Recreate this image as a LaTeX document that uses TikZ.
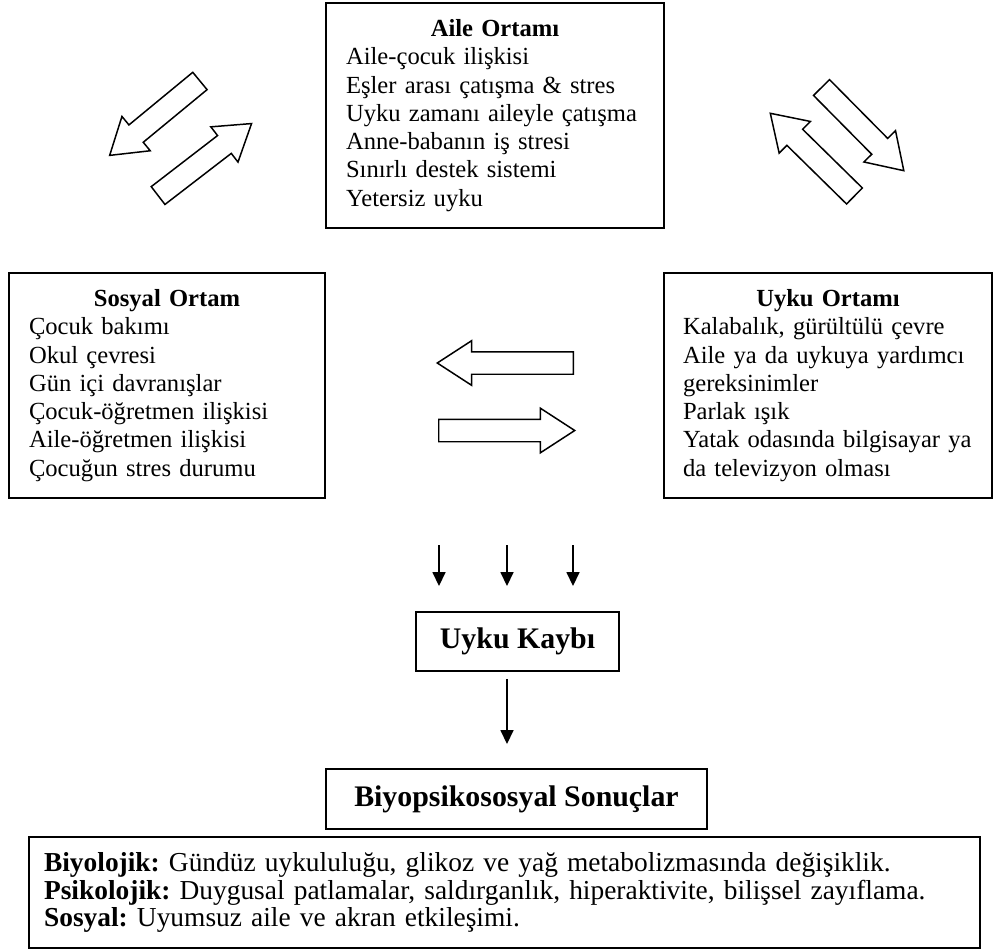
\documentclass[tikz,border=0pt]{standalone}
\usepackage{fontspec}
\setmainfont{Liberation Serif}
\usetikzlibrary{positioning, arrows.meta, shapes.arrows}
\frenchspacing

\begin{document}
\begin{tikzpicture}[x=0.02cm, y=-0.02cm,
  box/.style={draw, line width=1.1pt, align=left, inner xsep=0.4cm, inner ysep=0pt,
              font=\fontsize{14pt}{16.1pt}\selectfont},
  side/.style={box, minimum height=4.5cm},
  head/.style={draw, line width=1.1pt, font=\fontsize{17pt}{20pt}\selectfont\bfseries},
  blk/.style={single arrow, draw, line width=0.85pt, inner xsep=0pt, inner ysep=0.21cm,
              single arrow tip angle=66, single arrow head extend=0.22cm},
  arr/.style={-{Triangle[length=0.28cm, width=0.26cm]}, line width=0.9pt}]
  \useasboundingbox (0,0) rectangle (995,951);
  % three settings
  \node[side, text width=5.96cm] (aile) at (495,115.5) {{\centering\textbf{Aile Ortamı}\par}
    Aile-çocuk ilişkisi\\ Eşler arası çatışma \& stres\\ Uyku zamanı aileyle çatışma\\
    Anne-babanın iş stresi\\ Sınırlı destek sistemi\\ Yetersiz uyku};
  \node[side, text width=5.52cm] (sosyal) at (167,385.5) {{\centering\textbf{Sosyal Ortam}\par}
    Çocuk bakımı\\ Okul çevresi\\ Gün içi davranışlar\\ Çocuk-öğretmen ilişkisi\\
    Aile-öğretmen ilişkisi\\ Çocuğun stres durumu};
  \node[side, inner xsep=0.38cm, text width=5.8cm] (uyku) at (828,385.5) {{\centering\textbf{Uyku Ortamı}\par}
    Kalabalık, gürültülü çevre\\ Aile ya da uykuya yardımcı\\ gereksinimler\\ Parlak ışık\\
    \mbox{Yatak odasında bilgisayar ya}\\ da televizyon olması};
  % block arrows between settings
  \node[blk, minimum height=2.34cm, rotate=219.5, anchor=tail] (ai2so) at (200.5,80.5) {};
  \node[blk, minimum height=2.36cm, rotate=37.6, anchor=tail] (so2ai) at (157.5,196) {};
  \node[blk, minimum height=2.34cm, rotate=-45.3, anchor=tail] (ai2uy) at (821,87) {};
  \node[blk, minimum height=2.36cm, rotate=135.5, anchor=tail] (uy2ai) at (855,196.5) {};
  \node[blk, minimum height=2.72cm, rotate=180, anchor=tail] (uy2so) at (574,363) {};
  \node[blk, minimum height=2.72cm, anchor=tail] (so2uy) at (438,430.5) {};
  % outcome chain
  \node[head, minimum width=4.06cm, minimum height=1.18cm] (kayip) at (517.5,641.5) {Uyku Kaybı};
  \node[head, minimum width=7.62cm, minimum height=1.2cm] (sonuc) at (516.5,799) {Biyopsikososyal Sonuçlar};
  \node[box, inner xsep=0.3cm, text width=18.42cm, minimum height=2.22cm,
        font=\fontsize{15.6pt}{15.7pt}\selectfont] (etki) at (504.5,892.5)
    {\textbf{Biyolojik:} Gündüz uykululuğu, glikoz ve yağ metabolizmasında değişiklik.\\
     \textbf{Psikolojik:} Duygusal patlamalar, saldırganlık, hiperaktivite, bilişsel zayıflama.\\
     \textbf{Sosyal:} Uyumsuz aile ve akran etkileşimi.};
  \coordinate (t1) at (439,545); \coordinate (t2) at (507,545); \coordinate (t3) at (573,545);
  \draw[arr, shorten >=0.5cm] (t1) -- (t1 |- kayip.north);
  \draw[arr, shorten >=0.5cm] (t2) -- (t2 |- kayip.north);
  \draw[arr, shorten >=0.5cm] (t3) -- (t3 |- kayip.north);
  \draw[arr, shorten <=0.14cm, shorten >=0.48cm] (t2 |- kayip.south) -- (t2 |- sonuc.north);
\end{tikzpicture}
\end{document}
